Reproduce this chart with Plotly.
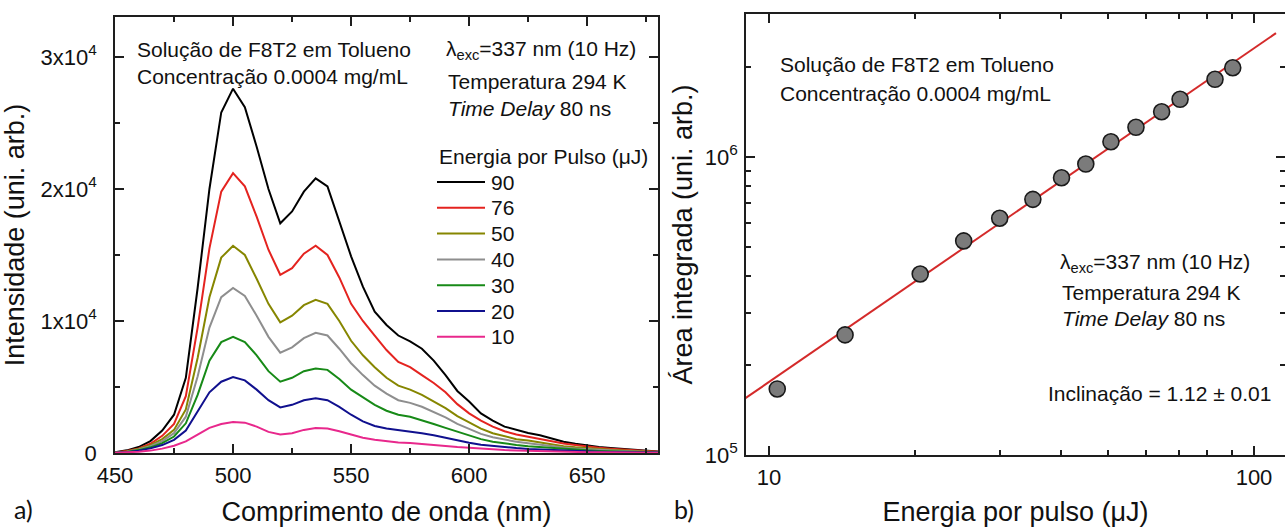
import numpy as np
import plotly.graph_objects as go

# ---------------- data ----------------
wavelength = list(range(450, 685, 5))  # nm

pulse_energy = [90, 76, 50, 40, 30, 20, 10]  # uJ
line_colors = ["#000000", "#e4231f", "#868600", "#8e8e8e", "#178a17", "#10108e", "#e8288c"]

spec_90 = [50, 200, 450, 900, 1700, 2900, 5700, 12500, 20000, 25800, 27600, 26200, 23200, 20000,
           17400, 18300, 19800, 20800, 20200, 17600, 14900, 12600, 10700, 9700, 8900, 8450, 7900,
           7000, 5900, 4700, 3900, 3000, 2450, 2000, 1750, 1520, 1350, 1100, 850, 700, 550, 450,
           380, 300, 230, 170, 110]
spec_76 = [40, 150, 350, 700, 1300, 2200, 4300, 9500, 15500, 19800, 21200, 20200, 17900, 15400,
           13500, 14000, 15100, 15700, 15000, 13300, 11300, 10000, 8900, 7800, 6900, 6500, 5900,
           5300, 4600, 3700, 3000, 2450, 2000, 1650, 1400, 1220, 1080, 900, 720, 600, 480, 400,
           330, 260, 200, 150, 100]
spec_50 = [30, 120, 300, 600, 1050, 1750, 3300, 7200, 11800, 14800, 15700, 15000, 13200, 11300,
           9900, 10400, 11200, 11600, 11300, 10000, 8500, 7400, 6500, 5700, 5100, 4800, 4400,
           3900, 3400, 2800, 2300, 1850, 1500, 1250, 1050, 950, 800, 650, 520, 430, 350, 290,
           240, 190, 150, 110, 80]
spec_40 = [25, 100, 260, 520, 900, 1500, 2750, 5800, 9500, 11800, 12500, 11900, 10400, 8800,
           7600, 8000, 8700, 9100, 8900, 7900, 6800, 5900, 5100, 4500, 4000, 3800, 3500, 3100,
           2700, 2200, 1800, 1450, 1200, 1000, 850, 740, 620, 520, 420, 340, 280, 230, 190, 150,
           120, 90, 60]
spec_30 = [20, 80, 220, 430, 750, 1250, 2250, 4400, 7000, 8400, 8800, 8400, 7400, 6200, 5400,
           5700, 6200, 6400, 6300, 5600, 4800, 4200, 3650, 3200, 2900, 2750, 2500, 2200, 1900,
           1600, 1300, 1050, 850, 720, 610, 520, 450, 370, 300, 250, 200, 160, 130, 110, 85, 65,
           45]
spec_20 = [15, 60, 180, 350, 600, 1000, 1700, 3100, 4600, 5400, 5750, 5500, 4800, 4000, 3450,
           3650, 4000, 4150, 4000, 3500, 2900, 2400, 2050, 1850, 1750, 1650, 1500, 1350, 1150,
           950, 780, 620, 520, 440, 370, 310, 270, 220, 180, 150, 120, 100, 80, 65, 50, 40, 30]
spec_10 = [10, 40, 100, 180, 330, 550, 880, 1400, 1900, 2200, 2350, 2300, 2000, 1600, 1400, 1500,
           1750, 1900, 1850, 1650, 1400, 1150, 1000, 880, 800, 760, 700, 620, 530, 450, 380, 310,
           260, 220, 190, 160, 130, 110, 90, 75, 60, 50, 40, 30, 25, 20, 15]
spectra = [spec_90, spec_76, spec_50, spec_40, spec_30, spec_20, spec_10]

# integrated area vs pulse energy
energy = [10.4, 14.35, 20.5, 25.2, 29.9, 35.0, 40.1, 45.0, 50.7, 57.1, 64.5, 70.4, 83.1, 90.4]
area = [1.666e5, 2.53e5, 4.05e5, 5.23e5, 6.23e5, 7.21e5, 8.52e5, 9.47e5, 1.125e6, 1.258e6,
        1.419e6, 1.562e6, 1.823e6, 1.994e6]
slope = 1.12
fit_energy_span = [8.9, 111.0]

x_ticks_a = [450, 500, 550, 600, 650]
y_ticks_a = [0, 10000, 20000, 30000]
y_ticktext_a = ["0", "1x10<sup>4</sup>", "2x10<sup>4</sup>", "3x10<sup>4</sup>"]
x_ticks_b = [10, 100]
x_minor_b = [20, 30, 40, 50, 60, 70, 80, 90]
y_ticks_b = [1e5, 1e6]
y_ticktext_b = ["10<sup>5</sup>", "10<sup>6</sup>"]
y_minor_b = [2e5, 3e5, 4e5, 5e5, 6e5, 7e5, 8e5, 9e5, 2e6, 3e6]

# ---------------- figure ----------------
W, H = 1285, 527
FONT = "Arial, 'Liberation Sans', sans-serif"
AX = "#1e1e1e"


def px(x):
    return x / W


def py(y):
    return 1 - y / H


fig = go.Figure()

for e, col, s in zip(pulse_energy, line_colors, spectra):
    fig.add_trace(go.Scatter(x=wavelength, y=s, mode="lines", name=f"{e}",
                             line=dict(color=col, width=2), xaxis="x", yaxis="y",
                             showlegend=False))

# power-law fit with the stated slope, intercept from the data
logE = np.log10(energy)
logA = np.log10(area)
intercept = logA.mean() - slope * logE.mean()
fit_x = np.array(fit_energy_span)
fit_y = 10 ** (intercept + slope * np.log10(fit_x))
fig.add_trace(go.Scatter(x=fit_x, y=fit_y, mode="lines", line=dict(color="#d42a2a", width=2),
                         xaxis="x2", yaxis="y2", showlegend=False))
fig.add_trace(go.Scatter(x=energy, y=area, mode="markers",
                         marker=dict(size=16, color="#7b7b7b", line=dict(color="#1a1a1a", width=1.6)),
                         xaxis="x2", yaxis="y2", showlegend=False))

axis_common = dict(showline=True, linecolor=AX, linewidth=1.8, mirror="ticks", ticks="inside",
                   tickcolor=AX, tickwidth=1.6, ticklen=9, showgrid=False, zeroline=False,
                   automargin=False,
                   tickfont=dict(family=FONT, size=22, color="#111"))

fig.update_layout(
    width=W, height=H, margin=dict(l=0, r=0, t=0, b=0, autoexpand=False),
    paper_bgcolor="white", plot_bgcolor="white",
    font=dict(family=FONT, color="#111"),
    xaxis=dict(domain=[px(115), px(658)], range=[450, 680], tickvals=x_ticks_a,
               minor=dict(ticks="inside", dtick=25, tick0=450, ticklen=5, tickcolor=AX, tickwidth=1.6),
               ticklabelstandoff=2,
               title=dict(text="Comprimento de onda (nm)", font=dict(family=FONT, size=27), standoff=16),
               anchor="y", **axis_common),
    yaxis=dict(domain=[py(453), py(17)], range=[0, 33030], tickvals=y_ticks_a, ticktext=y_ticktext_a,
               minor=dict(ticks="inside", dtick=5000, tick0=0, ticklen=5, tickcolor=AX, tickwidth=1.6),
               ticklabelstandoff=12,
               title=dict(text="Intensidade (uni. arb.)", font=dict(family=FONT, size=27), standoff=10),
               anchor="x", **axis_common),
    xaxis2=dict(domain=[px(746), 1.0], type="log", range=[0.9526, 2.0639], tickvals=x_ticks_b,
                ticktext=["10", "100"],
                minor=dict(ticks="inside", tickvals=x_minor_b, ticklen=5, tickcolor=AX, tickwidth=1.6),
                ticklabelstandoff=2,
                title=dict(text="Energia por pulso (μJ)", font=dict(family=FONT, size=27), standoff=16),
                anchor="y2", **axis_common),
    yaxis2=dict(domain=[py(455), py(14)], type="log", range=[5, 6.48], tickvals=y_ticks_b,
                ticktext=y_ticktext_b,
                minor=dict(ticks="inside", tickvals=y_minor_b, ticklen=5, tickcolor=AX, tickwidth=1.6),
                ticklabelstandoff=2,
                title=dict(text="Área integrada (uni. arb.)", font=dict(family=FONT, size=27), standoff=4),
                anchor="x2", **axis_common),
)

notes = [
    ("Solução de F8T2 em Tolueno", 135, 49),
    ("Concentração 0.0004 mg/mL", 135, 76),
    ("λ<sub>exc</sub>=337 nm (10 Hz)", 444, 50),
    ("Temperatura 294 K", 446, 81),
    ("<i>Time Delay</i> 80 ns", 446, 108),
    ("Energia por Pulso (μJ)", 437, 157),
    ("Solução de F8T2 em Tolueno", 778, 65),
    ("Concentração 0.0004 mg/mL", 778, 93),
    ("λ<sub>exc</sub>=337 nm (10 Hz)", 1058, 263),
    ("Temperatura 294 K", 1060, 292),
    ("<i>Time Delay</i> 80 ns", 1060, 318),
    ("Inclinação = 1.12 ± 0.01", 1046, 393),
]
for text, x, y in notes:
    fig.add_annotation(text=text, x=px(x), y=py(y), xref="paper", yref="paper",
                       xanchor="left", yanchor="middle", showarrow=False,
                       font=dict(family=FONT, size=21, color="#111"))

# hand-placed legend for the spectra
row0, row_step = 182, 25.8
for i, (e, col) in enumerate(zip(pulse_energy, line_colors)):
    yy = row0 + i * row_step
    fig.add_shape(type="line", xref="paper", yref="paper", x0=px(437), x1=px(485),
                  y0=py(yy), y1=py(yy), line=dict(color=col, width=2))
    fig.add_annotation(text=str(e), x=px(489), y=py(yy), xref="paper", yref="paper",
                       xanchor="left", yanchor="middle", showarrow=False,
                       font=dict(family=FONT, size=21, color="#111"))

# panel letters
for text, x in [("a)", 12), ("b)", 672)]:
    fig.add_annotation(text=text, x=px(x), y=py(526), xref="paper", yref="paper",
                       xanchor="left", yanchor="bottom", showarrow=False,
                       font=dict(family="Lato, sans-serif", size=25, color="#111"))

fig.write_html("out.html")
